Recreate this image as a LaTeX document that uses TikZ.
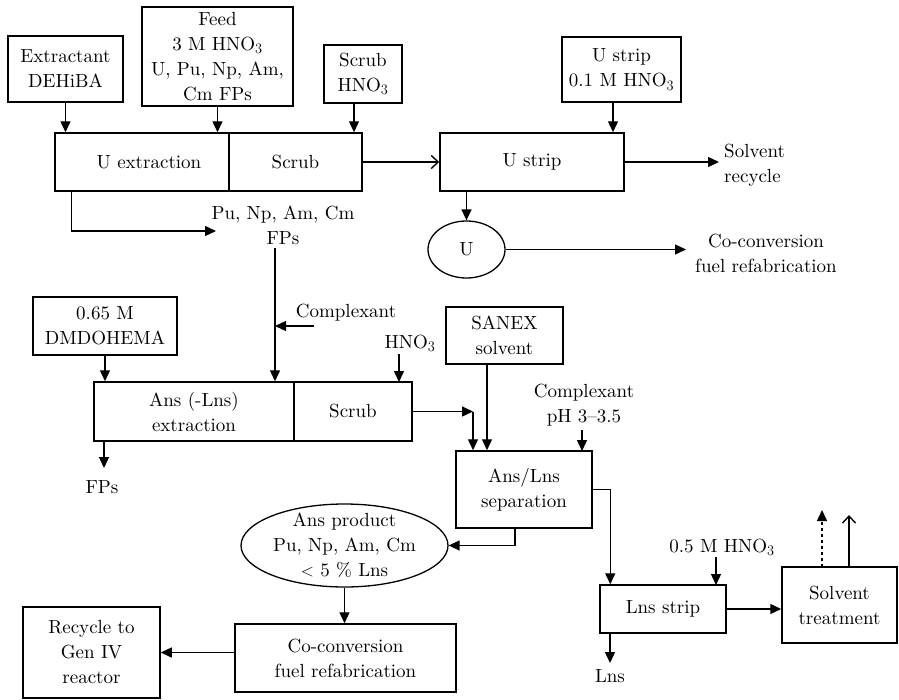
\documentclass[tikz,border=0pt]{standalone}
\usepackage{fontspec}
\setmainfont{lmroman10-regular.otf}
\usetikzlibrary{arrows.meta,shapes.geometric}
\begin{document}
\begin{tikzpicture}[x=1pt,y=-1pt,font=\fontsize{19}{25}\selectfont,
  box/.style={draw,line width=1.5pt,align=center,inner sep=0pt},
  oval/.style={draw,ellipse,line width=1.3pt,inner sep=0pt},
  lbl/.style={align=center,inner sep=0pt},
  arr/.style={-{Triangle[length=11pt,width=10pt]},line width=1.4pt},
  oarr/.style={-{Straight Barb[length=7pt,width=13pt]},line width=1.4pt}]
\path[use as bounding box] (0,0) rectangle (899,699);

% --- uranium extraction cycle ---
\node[box,minimum width=115pt,minimum height=66pt] (ext) at (65.5,69) {Extractant\\DEHiBA};
\node[box,minimum width=151pt,minimum height=99pt] (feed) at (217.5,56.5) {Feed\\3 M HNO$_3$\\U, Pu, Np, Am,\\Cm FPs};
\node[box,minimum width=78pt,minimum height=58pt] (scrubin) at (363,74) {Scrub\\HNO$_3$};
\node[box,minimum width=174pt,minimum height=58pt] (uext) at (142,162) {\hspace*{14pt}U extraction};
\node[box,minimum width=133pt,minimum height=58pt] (scrub1) at (295.5,162) {Scrub};
\node[box,minimum width=184pt,minimum height=58pt] (ustrip) at (532,162) {U strip};
\node[box,minimum width=119pt,minimum height=65pt] (ustripin) at (621.5,69.5) {U strip\\0.1 M HNO$_3$};
\node[lbl,anchor=west,align=left] (solrec) at (724,165) {Solvent\\recycle};
\node[oval,minimum width=77pt,minimum height=57pt] (U) at (466.5,249.5) {U};
\node[lbl] (cofuel1) at (766,253) {Co-conversion\\fuel refabrication};
\node[lbl] (pufp) at (283,225) {Pu, Np, Am, Cm\\FPs};
\coordinate (solrecend) at (719,162);
\coordinate (cofuel1end) at (686,249.5);
\coordinate (pufpend) at (216,231);
\coordinate (pufptop) at (275,248);

\draw[arr] (ext.south) -- (ext.south |- uext.north);
\draw[arr] (feed.south) -- (feed.south |- uext.north);
\draw[arr] ([xshift=-9pt]scrubin.south) -- ([xshift=-9pt]scrubin.south |- scrub1.north);
\draw[oarr] (scrub1.east) -- (ustrip.west);
\draw[arr] ([xshift=-8.5pt]ustripin.south) -- ([xshift=-8.5pt]ustripin.south |- ustrip.north);
\draw[arr] (ustrip.east) -- (solrecend);
\draw[arr] (ustrip.south -| U.north) -- (U.north);
\draw[arr] (U.east) -- (cofuel1end);
\draw[arr] ([xshift=17pt]uext.south west) |- (pufpend);

% --- minor actinide extraction ---
\node[box,minimum width=144pt,minimum height=58pt] (dmd) at (105,326) {0.65 M\\DMDOHEMA};
\node[box,minimum width=200pt,minimum height=59pt] (aext) at (194,411.5) {Ans (-Lns)\\extraction};
\node[box,minimum width=118pt,minimum height=59pt] (ascrub) at (353,411.5) {Scrub};
\node[lbl] (cplx1) at (346,313) {Complexant};
\node[lbl] (hno3a) at (410,343) {HNO$_3$};
\node[lbl] (fps) at (102,487) {FPs};
\coordinate (cplx1start) at (314,326);

\draw[arr] (pufptop) -- (pufptop |- aext.north);
\draw[arr] (cplx1start) -- (cplx1start -| pufptop);
\draw[arr] (dmd.south) -- (dmd.south |- aext.north);
\draw[arr] (399,354) -- (399,382);
\draw[arr] (104,441) -- (104,468);

% --- SANEX separation ---
\node[box,minimum width=117pt,minimum height=57pt] (sanex) at (504.5,335.5) {SANEX\\solvent};
\node[box,minimum width=136pt,minimum height=77pt] (sep) at (524,489.5) {Ans/Lns\\separation};
\node[lbl] (cplx2) at (584,405) {Complexant\\pH 3--3.5};
\node[box,minimum width=126pt,minimum height=48pt] (lns) at (663,609) {Lns strip};
\node[lbl] (hno3b) at (722,547) {0.5 M HNO$_3$};
\node[lbl] (lnsout) at (610,676) {Lns};
\node[box,minimum width=115pt,minimum height=76pt] (solt) at (839.5,605) {Solvent\\treatment};
\coordinate (corner) at (473,411.5);

\draw[arr] (ascrub.east) -- (corner);
\draw[arr] (corner) -- (corner |- sep.north);
\draw[arr] ([xshift=-17.5pt]sanex.south) -- ([xshift=-17.5pt]sanex.south |- sep.north);
\draw[arr] (582,430) -- (582,451);
\draw[arr] (sep.east) -| ([xshift=11pt]lns.north west);
\draw[arr] (716,557) -- (716,585);
\draw[arr] (610,633) -- (610,663);
\draw[arr] (lns.east) -- (lns.east -| solt.west);
\draw[arr,dashed] (822,567) -- (822,510);
\draw[oarr] (849,567) -- (849,515);

% --- actinide product and refabrication ---
\node[oval,minimum width=207pt,minimum height=83pt] (prod) at (344.5,545.5) {};
\node[lbl] at (prod.center) {Ans product\\Pu, Np, Am, Cm\\$<$ 5 \% Lns};
\node[box,minimum width=221pt,minimum height=68pt] (coconv) at (345.5,658) {Co-conversion\\fuel refabrication};
\node[box,minimum width=137pt,minimum height=91pt] (recyc) at (91.5,652.5) {Recycle to\\Gen IV\\reactor};

\draw[arr] (515,528) |- (prod.east);
\draw[arr] (prod.south) -- (prod.south |- coconv.north);
\draw[arr] (coconv.west |- recyc.east) -- (recyc.east);
\end{tikzpicture}
\end{document}
